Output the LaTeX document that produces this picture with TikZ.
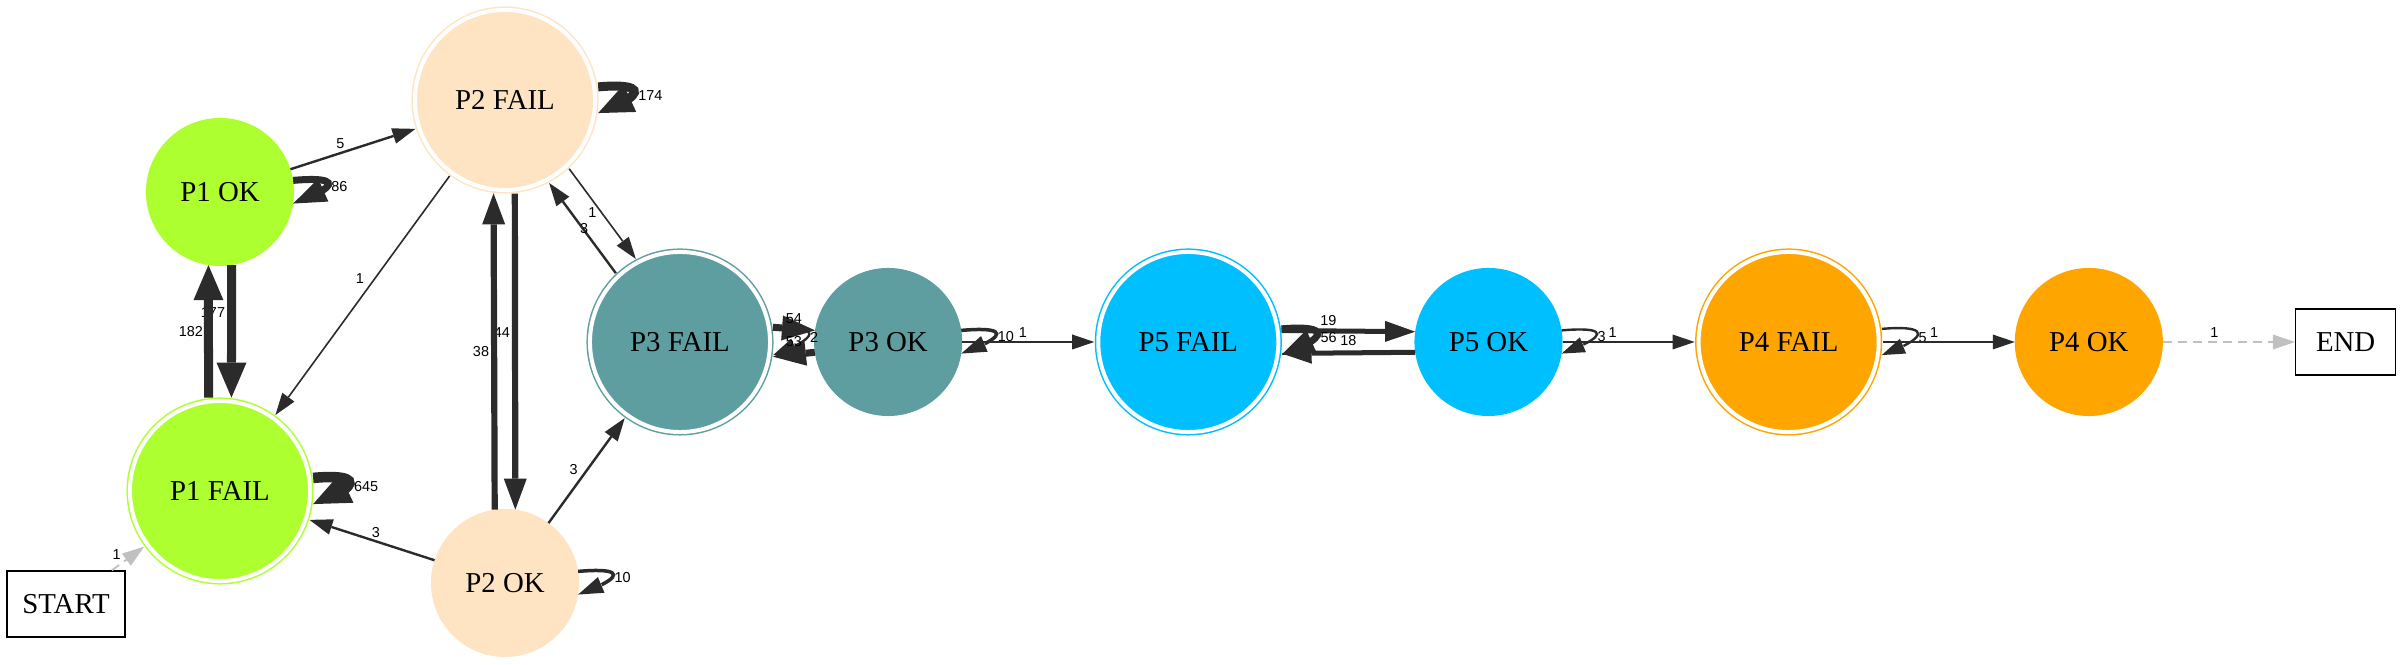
\documentclass[tikz,border=0pt]{standalone}
\usepackage{fontspec}
\setmainfont{Liberation Serif}
\newfontfamily\edgelabelfont{Liberation Sans}
\usetikzlibrary{positioning,arrows.meta,bending}

\definecolor{p1col}{HTML}{ADFF2F}
\definecolor{p2col}{HTML}{FFE4C4}
\definecolor{p3col}{HTML}{5F9EA0}
\definecolor{p5col}{HTML}{00BFFF}
\definecolor{p4col}{HTML}{FFA500}
\definecolor{edgecol}{HTML}{2B2B2B}
\definecolor{fadecol}{HTML}{C0C0C0}

\newcommand{\statefont}{\fontsize{8.2}{9}\selectfont}

\begin{document}
\begin{tikzpicture}[
  x=0.01cm, y=-0.01cm,
  node distance=1.32cm,
  okstate/.style  ={circle, fill=#1, minimum size=1.48cm, inner sep=0pt,
                    outer sep=0pt, font=\statefont},
  failstate/.style={circle, fill=#1, draw=#1, line width=0.015cm, double=white,
                    double distance=0.04cm, minimum size=1.8cm, inner sep=0pt,
                    outer sep=0.04cm, font=\statefont},
  endpoint/.style ={draw, line width=0.013cm, fill=white, minimum height=0.66cm,
                    inner sep=0pt, font=\statefont},
  lbl/.style      ={inner sep=0pt, font=\edgelabelfont\fontsize{4.1}{5}\selectfont},
  arr1/.style     ={draw=edgecol, line width=0.016cm,
                    -{Triangle[length=0.22cm, width=0.15cm, line width=0pt, flex]}},
  arr3/.style     ={draw=edgecol, line width=0.024cm,
                    -{Triangle[length=0.23cm, width=0.16cm, line width=0pt, flex]}},
  arr10/.style    ={draw=edgecol, line width=0.035cm,
                    -{Triangle[length=0.25cm, width=0.17cm, line width=0pt, flex]}},
  arr20/.style    ={draw=edgecol, line width=0.05cm,
                    -{Triangle[length=0.30cm, width=0.21cm, line width=0pt, flex]}},
  arr40/.style    ={draw=edgecol, line width=0.062cm,
                    -{Triangle[length=0.31cm, width=0.23cm, line width=0pt, flex]}},
  arr60/.style    ={draw=edgecol, line width=0.07cm,
                    -{Triangle[length=0.33cm, width=0.25cm, line width=0pt, flex]}},
  arr180/.style   ={draw=edgecol, line width=0.09cm,
                    -{Triangle[length=0.35cm, width=0.30cm, line width=0pt, flex]}},
  arr600/.style   ={draw=edgecol, line width=0.105cm,
                    -{Triangle[length=0.37cm, width=0.32cm, line width=0pt, flex]}},
  fade/.style     ={draw=fadecol, line width=0.018cm, dash pattern=on 0.09cm off 0.06cm,
                    -{Triangle[length=0.22cm, width=0.15cm, line width=0pt, flex]}},
  okloop/.style   ={out=5, in=20, looseness=5.4},
  failloop/.style ={out=5, in=20, looseness=4.9}]

\useasboundingbox (0,0) rectangle (2400,665);

\node[endpoint, minimum width=1.18cm] (startbox) at (66,604) {START};
\node[okstate=p1col]   (p1ok)   at (220,192) {P1 OK};
\node[failstate=p1col] (p1fail) at (220,491) {P1 FAIL};
\node[failstate=p2col] (p2fail) at (505,100) {P2 FAIL};
\node[okstate=p2col]   (p2ok)   at (505,583) {P2 OK};
\node[failstate=p3col] (p3fail) at (680,342) {P3 FAIL};
\node[okstate=p3col, right=0.4cm of p3fail] (p3ok)   {P3 OK};
\node[failstate=p5col, right=of p3ok]       (p5fail) {P5 FAIL};
\node[okstate=p5col, right=of p5fail]       (p5ok)   {P5 OK};
\node[failstate=p4col, right=of p5ok]       (p4fail) {P4 FAIL};
\node[okstate=p4col, right=of p4fail]       (p4ok)   {P4 OK};
\node[endpoint, minimum width=1.0cm, right=of p4ok] (endbox) {END};

\draw[fade]   (startbox) -- node[lbl, pos=0.15, above=0.06cm] {1} (p1fail);
\draw[arr3]   (p1ok) -- node[lbl, pos=0.4, above=0.03cm] {5} (p2fail);
\draw[arr60]  (p1ok.9) to[okloop] node[lbl, pos=0.6, right=0.01cm] {86} (p1ok.-9);
\draw[arr180] (p1ok.-81) -- node[lbl, pos=0.36, left=0.02cm] {177} (p1fail.83);
\draw[arr180] (p1fail.97) -- node[lbl, pos=0.5, left=0.01cm] {182} (p1ok.-99);
\draw[arr600] (p1fail.8) to[failloop] node[lbl, pos=0.6, right=0.01cm] {645} (p1fail.-8);
\draw[arr1]   (p2fail) -- node[lbl, pos=0.43, left=0.1cm] {1} (p1fail);
\draw[arr180] (p2fail.8) to[failloop] node[lbl, pos=0.6, right=0.01cm] {174} (p2fail.-8);
\draw[arr40]  (p2fail.-84) -- node[lbl, pos=0.44, left=0.02cm] {44} (p2ok.82);
\draw[arr40]  (p2ok.98) -- node[lbl, pos=0.5, left=0.02cm] {38} (p2fail.-97);
\draw[arr1]   (p2fail.-47) -- node[lbl, pos=0.48, left=0.04cm] {1} (p3fail.118);
\draw[arr3]   (p3fail.133) -- node[lbl, pos=0.5, xshift=0.015cm] {3} (p2fail.-62);
\draw[arr3]   (p2ok) -- node[lbl, pos=0.47, above=0.02cm] {3} (p1fail);
\draw[arr3]   (p2ok) -- node[lbl, pos=0.51, left=0.085cm] {3} (p3fail);
\draw[arr10]  (p2ok.9) to[okloop] node[lbl, pos=0.6, right=0.01cm] {10} (p2ok.-9);
\draw[arr3]   (p3fail.8) to[failloop] node[lbl, pos=0.6, right=0.01cm] {2} (p3fail.-8);
\draw[arr60]  (p3fail.9) -- node[lbl, pos=0.5, above=0.02cm] {54} (p3ok.171);
\draw[arr60]  (p3ok.188) -- node[lbl, pos=0.5, above=0.04cm] {53} (p3fail.-9);
\draw[arr10]  (p3ok.9) to[okloop] node[lbl, pos=0.6, right=0.01cm] {10} (p3ok.-9);
\draw[arr1]   (p3ok) -- node[lbl, pos=0.46, above=0.04cm] {1} (p5fail);
\draw[arr20]  (p5fail.7) -- node[lbl, pos=0.35, above=0.03cm] {19} (p5ok.172);
\draw[arr20]  (p5ok.188) -- node[lbl, pos=0.5, above=0.045cm] {18} (p5fail.-7);
\draw[arr60]  (p5fail.8) to[failloop] node[lbl, pos=0.6, right=0.01cm] {56} (p5fail.-8);
\draw[arr3]   (p5ok.9) to[okloop] node[lbl, pos=0.6, right=0.01cm] {3} (p5ok.-9);
\draw[arr1]   (p5ok) -- node[lbl, pos=0.38, above=0.04cm] {1} (p4fail);
\draw[arr3]   (p4fail.8) to[failloop] node[lbl, pos=0.6, right=0.01cm] {5} (p4fail.-8);
\draw[arr1]   (p4fail) -- node[lbl, pos=0.39, above=0.04cm] {1} (p4ok);
\draw[fade]   (p4ok) -- node[lbl, pos=0.39, above=0.04cm] {1} (endbox);
\end{tikzpicture}
\end{document}
